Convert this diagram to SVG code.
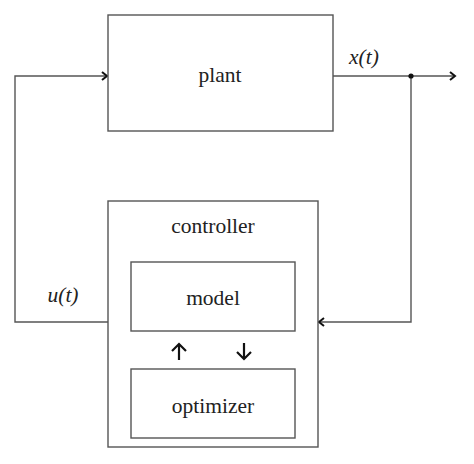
<svg xmlns="http://www.w3.org/2000/svg" width="474" height="464" viewBox="0 0 474 464">
<style>
.box{fill:#fff;stroke:#555;stroke-width:1.4}
.ln{fill:none;stroke:#555;stroke-width:1.4}
.t{font-family:"Liberation Serif","DejaVu Serif",serif;font-size:21.5px;fill:#222;text-anchor:middle}
.it{font-style:italic}
.ar{fill:none;stroke:#111;stroke-width:2.2}
</style>
<defs>
<marker id="chev" markerWidth="10" markerHeight="10" refX="8" refY="5" orient="auto" markerUnits="userSpaceOnUse">
<path d="M3,1 L8,5 L3,9" fill="none" stroke="#111" stroke-width="2"/>
</marker>
</defs>
<rect width="474" height="464" fill="#fff"/>
<g id="connectors">
<path class="ln" d="M108,322 H15 V76 H107" marker-end="url(#chev)"/>
<path class="ln" d="M333,76 H455" marker-end="url(#chev)"/>
<path class="ln" d="M411,76 V322 H319" marker-end="url(#chev)"/>
<circle cx="411" cy="76" r="2.6" fill="#111"/>
<text class="t it" x="364" y="64">x(t)</text>
<text class="t it" x="63" y="302">u(t)</text>
</g>
<g id="plant">
<rect class="box" x="108" y="15" width="225" height="116"/>
<text class="t" x="220" y="82">plant</text>
</g>
<g id="controller">
<rect class="box" x="108" y="201" width="210" height="246"/>
<text class="t" x="213" y="233">controller</text>
</g>
<g id="model">
<rect class="box" x="131" y="262" width="164" height="69"/>
<text class="t" x="213" y="305">model</text>
</g>
<g id="optimizer">
<rect class="box" x="131" y="369" width="164" height="69"/>
<text class="t" x="213" y="413">optimizer</text>
</g>
<g id="exchange">
<path class="ar" d="M179,360 V344 M172,351 L179,344 L186,351"/>
<path class="ar" d="M244,343 V359 M237,352 L244,359 L251,352"/>
</g>
</svg>
